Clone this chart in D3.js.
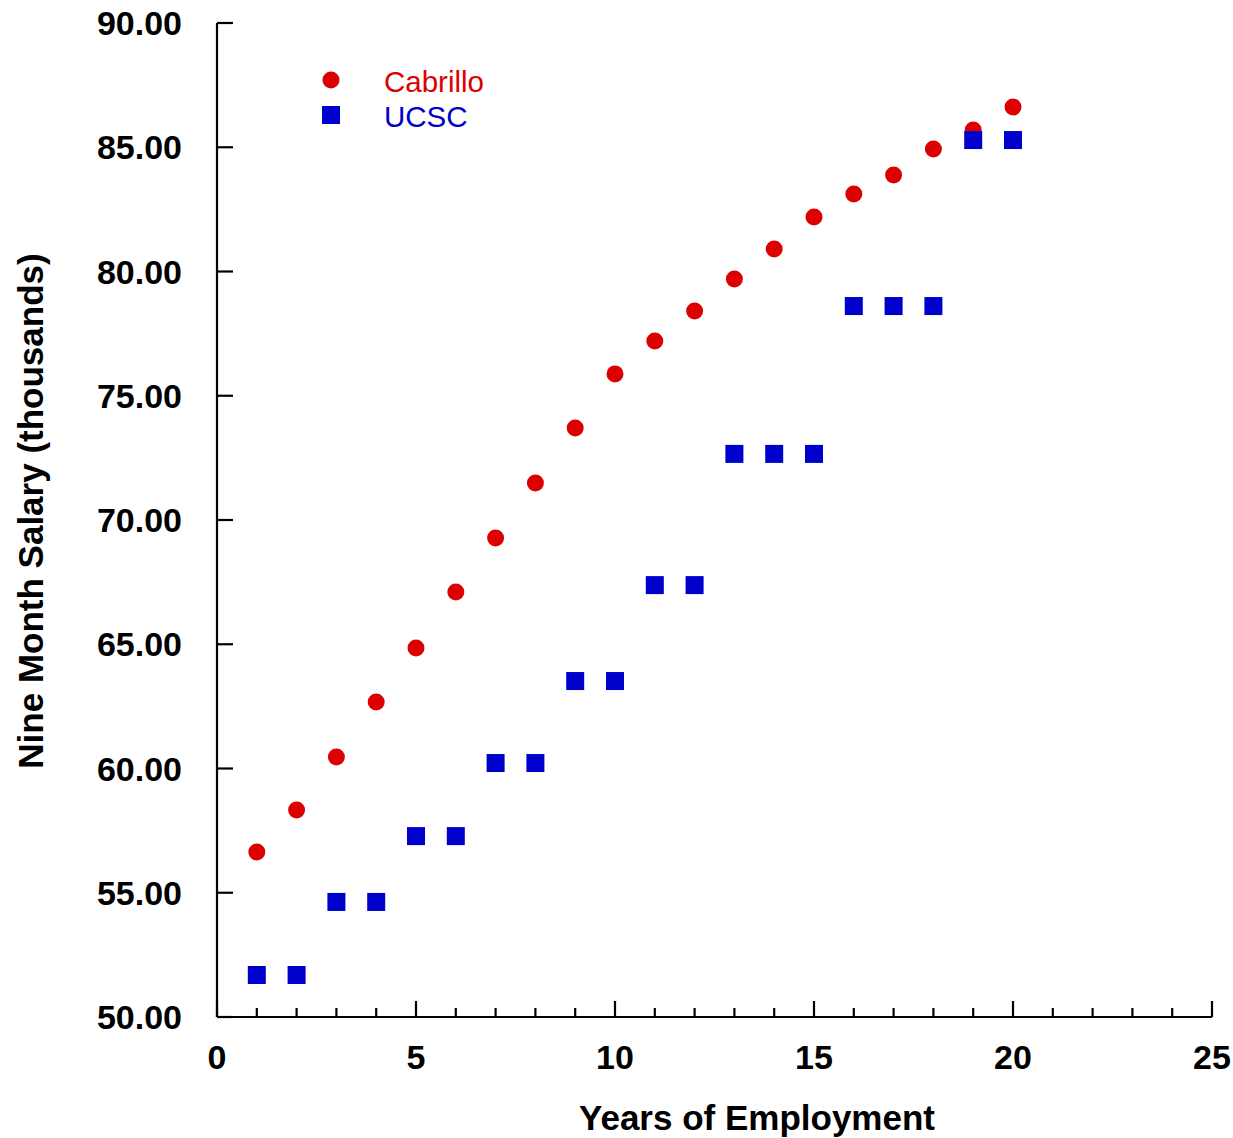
<!DOCTYPE html>
<html><head><meta charset="utf-8">
<script src="https://cdn.jsdelivr.net/npm/d3@7"></script>
<style>body{margin:0;background:#fff}svg{display:block}</style>
</head><body>
<script>
const years = [1,2,3,4,5,6,7,8,9,10,11,12,13,14,15,16,17,18,19,20];
const cabrillo = [56.64,58.33,60.46,62.68,64.85,67.1,69.28,71.49,73.7,75.88,77.2,78.41,79.7,80.91,82.19,83.12,83.88,84.93,85.69,86.62];
const ucsc = [51.69,51.69,54.63,54.63,57.28,57.28,60.22,60.22,63.52,63.52,67.38,67.38,72.66,72.66,72.66,78.61,78.61,78.61,85.29,85.29];
const xTicks = [0,5,10,15,20,25];
const yTicks = [50,55,60,65,70,75,80,85,90];
const seriesNames = ["Cabrillo","UCSC"];

const W=1233,H=1138;
const svg=d3.select("body").append("svg").attr("width",W).attr("height",H);
const x=d3.scaleLinear().domain([0,25]).range([217,1212]);
const y=d3.scaleLinear().domain([50,90]).range([1017,23]);
const font="Liberation Sans, Arial, sans-serif";

// x axis
const gx=svg.append("g").attr("transform","translate(0,1017)");
gx.append("line").attr("x1",x(0)).attr("x2",x(25)).attr("stroke","#000").attr("stroke-width",2.2);
gx.selectAll("line.minor").data(d3.range(0,26)).join("line").attr("class","minor")
  .attr("x1",d=>x(d)).attr("x2",d=>x(d)).attr("y1",0).attr("y2",d=>d%5===0?-16:-9)
  .attr("stroke","#000").attr("stroke-width",2.2);
gx.selectAll("text").data(xTicks).join("text").attr("x",d=>x(d)).attr("y",52)
  .attr("text-anchor","middle").attr("font-family",font).attr("font-weight","bold").attr("font-size",34).text(d=>d);

// y axis
const gy=svg.append("g").attr("transform","translate(217,0)");
gy.append("line").attr("y1",y(50)).attr("y2",y(90)).attr("stroke","#000").attr("stroke-width",2.2);
gy.selectAll("line.t").data(yTicks).join("line").attr("class","t")
  .attr("y1",d=>y(d)).attr("y2",d=>y(d)).attr("x1",0).attr("x2",16).attr("stroke","#000").attr("stroke-width",2.2);
gy.selectAll("text").data(yTicks).join("text").attr("x",-35).attr("y",d=>y(d)+12)
  .attr("text-anchor","end").attr("font-family",font).attr("font-weight","bold").attr("font-size",34).text(d=>d.toFixed(2));

// titles
svg.append("text").attr("x",757).attr("y",1130).attr("text-anchor","middle").attr("font-family",font)
  .attr("font-weight","bold").attr("font-size",35).text("Years of Employment");
svg.append("text").attr("transform","translate(43,511) rotate(-90)").attr("text-anchor","middle").attr("font-family",font)
  .attr("font-weight","bold").attr("font-size",35).text("Nine Month Salary (thousands)");

// data
const red="#dd0000", blue="#0000cc";
svg.append("g").selectAll("circle").data(years).join("circle")
  .attr("cx",(d)=>x(d)).attr("cy",(d,i)=>y(cabrillo[i])).attr("r",8.5).attr("fill",red);
svg.append("g").selectAll("rect").data(years).join("rect")
  .attr("x",d=>x(d)-9).attr("y",(d,i)=>y(ucsc[i])-9).attr("width",18).attr("height",18).attr("fill",blue);

// legend
svg.append("circle").attr("cx",331).attr("cy",80).attr("r",8.5).attr("fill",red);
svg.append("rect").attr("x",322).attr("y",106).attr("width",18).attr("height",18).attr("fill",blue);
svg.append("text").attr("x",384).attr("y",92).attr("font-family",font).attr("font-size",29.5).attr("fill",red).text(seriesNames[0]);
svg.append("text").attr("x",384).attr("y",127).attr("font-family",font).attr("font-size",29.5).attr("fill",blue).text(seriesNames[1]);
</script>
</body></html>
